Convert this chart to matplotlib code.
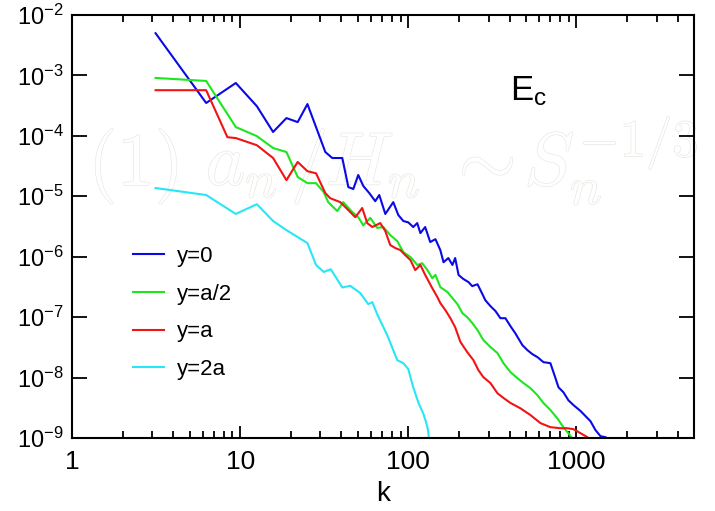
import numpy as np
import matplotlib
matplotlib.use('Agg')
import matplotlib.pyplot as plt
import matplotlib.patheffects as pe
from matplotlib.ticker import NullLocator, FuncFormatter

plt.rcParams['font.family'] = ['Liberation Sans', 'DejaVu Sans']
plt.rcParams['mathtext.fontset'] = 'custom'
plt.rcParams['mathtext.rm'] = 'Liberation Sans'
plt.rcParams['mathtext.it'] = 'Liberation Sans:italic'
plt.rcParams['mathtext.sf'] = 'Liberation Sans'

# spectra E_c(k)
k_y0 = [3.14, 6.28, 9.42, 12.57, 15.7, 18.85, 21.99, 25.13, 32.1, 35.3, 40.5, 44.0, 47.1,
        50.4, 54.0, 58.6, 63.6, 67.2, 73.0, 81.4, 87.2, 93.4, 100, 107, 113, 118, 126, 135,
        145, 155, 162, 173, 183, 190, 199, 212, 228, 240, 258, 276, 287, 308, 330, 353, 378,
        405, 433, 477, 511, 547, 586, 636, 700, 750, 782, 837, 896, 960, 1057, 1132, 1211,
        1298, 1390, 1489, 1593]
E_y0 = [5.0e-3, 3.5e-4, 7.5e-4, 3.1e-4, 1.16e-4, 1.97e-4, 1.69e-4, 3.36e-4, 5.4e-5, 4.3e-5,
        4.3e-5, 1.42e-5, 1.32e-5, 2.25e-5, 1.48e-5, 1.13e-5, 8.3e-6, 1.05e-5, 5.1e-6, 8.0e-6,
        4.9e-6, 3.9e-6, 3.7e-6, 3.1e-6, 3.6e-6, 2.46e-6, 3.1e-6, 1.75e-6, 1.95e-6, 1.29e-6,
        8.1e-7, 9.5e-7, 7.3e-7, 9.5e-7, 5.0e-7, 4.3e-7, 3.8e-7, 3.26e-7, 3.5e-7, 2.4e-7,
        1.91e-7, 1.52e-7, 1.26e-7, 9.6e-8, 9.6e-8, 7.1e-8, 5.4e-8, 3.44e-8, 2.84e-8, 2.44e-8,
        2.18e-8, 1.8e-8, 1.73e-8, 9.8e-9, 6.9e-9, 5.7e-9, 4.2e-9, 3.5e-9, 2.8e-9, 2.3e-9,
        1.9e-9, 1.35e-9, 1.07e-9, 1.03e-9, 9.2e-10]

k_ya2 = [3.14, 6.28, 9.42, 12.57, 15.7, 18.85, 21.99, 25.13, 28.27, 31.4, 33.4, 37.8, 41.0,
         46.4, 50.4, 54.0, 59.4, 65.3, 71.0, 78.1, 86.0, 93.4, 103, 113, 121, 130, 139, 145,
         155, 171, 183, 196, 210, 224, 240, 258, 279, 308, 339, 368, 405, 445, 484, 532, 586,
         636, 700, 771, 837, 896, 960]
E_ya2 = [9.1e-4, 8.1e-4, 1.4e-4, 9.9e-5, 6.3e-5, 5.4e-5, 2.08e-5, 1.65e-5, 1.65e-5, 1.17e-5,
         8.0e-6, 5.7e-6, 8.0e-6, 5.5e-6, 4.5e-6, 3.3e-6, 4.4e-6, 3.0e-6, 3.1e-6, 2.28e-6,
         1.81e-6, 1.19e-6, 9.9e-7, 7.3e-7, 7.8e-7, 6.0e-7, 4.4e-7, 5.0e-7, 3.14e-7, 2.6e-7,
         2.07e-7, 1.64e-7, 1.16e-7, 1.0e-7, 8.0e-8, 6.1e-8, 4.2e-8, 3.2e-8, 2.54e-8, 1.73e-8,
         1.23e-8, 9.8e-9, 8.1e-9, 6.7e-9, 5.1e-9, 3.8e-9, 2.9e-9, 2.1e-9, 1.5e-9, 1.2e-9,
         9.2e-10]

k_ya = [3.14, 6.28, 8.4, 9.42, 12.57, 15.7, 18.85, 21.99, 25.13, 28.27, 32.1, 34.3, 39.4,
        44.0, 48.4, 53.2, 57.0, 61.1, 68.1, 73.0, 78.1, 83.7, 89.6, 96.0, 103, 110, 118, 126,
        139, 149, 155, 166, 178, 190, 204, 224, 244, 261, 279, 308, 339, 368, 405, 464, 532,
        611, 700, 803, 884, 960, 1057, 1162, 1211]
E_ya = [5.7e-4, 5.7e-4, 9.5e-5, 9.2e-5, 7.0e-5, 4.3e-5, 1.85e-5, 3.7e-5, 2.6e-5, 2.4e-5,
        1.13e-5, 9.3e-6, 8.0e-6, 5.9e-6, 4.5e-6, 6.4e-6, 3.6e-6, 3.1e-6, 3.6e-6, 2.65e-6,
        1.56e-6, 1.39e-6, 1.29e-6, 1.06e-6, 8.8e-7, 6.0e-7, 7.3e-7, 5.0e-7, 3.0e-7, 2.14e-7,
        1.71e-7, 1.31e-7, 9.6e-8, 6.8e-8, 3.9e-8, 2.64e-8, 1.94e-8, 1.33e-8, 1.02e-8, 8.1e-9,
        5.5e-9, 4.6e-9, 3.8e-9, 3.1e-9, 2.4e-9, 1.76e-9, 1.51e-9, 1.45e-9, 1.45e-9, 1.4e-9,
        1.2e-9, 1.03e-9, 9.2e-10]

k_y2a = [3.14, 6.28, 9.42, 12.57, 15.7, 18.85, 25.13, 28.27, 31.4, 34.6, 40.5, 45.2, 51.8,
         57.8, 61.1, 65.3, 75.0, 86.0, 93.4, 100, 107, 115, 123, 128, 131, 133]
E_y2a = [1.37e-5, 1.05e-5, 5.1e-6, 7.4e-6, 3.9e-6, 2.75e-6, 1.68e-6, 7.3e-7, 5.6e-7, 6.2e-7,
         3.1e-7, 3.3e-7, 2.5e-7, 1.64e-7, 1.77e-7, 1.12e-7, 5.0e-8, 1.94e-8, 1.73e-8, 1.38e-8,
         6.9e-9, 3.8e-9, 2.5e-9, 1.76e-9, 1.35e-9, 9.2e-10]

# pieces of the faded formula and their left edges (axes fraction)
ghost_parts = [r'$(1)$', r'$a_n$', r'$/$', r'$H_n$', r'$\sim$', r'$S_n^{-1/3}$']
ghost_x = [0.026, 0.215, 0.352, 0.408, 0.600, 0.727]

fig = plt.figure(figsize=(7.15, 5.11), dpi=100)
ax = fig.add_axes([0.1007, 0.1429, 0.8699, 0.8277])

ax.plot(k_y0, E_y0, color='#0a0ae6', lw=1.5, label='y=0')
ax.plot(k_ya2, E_ya2, color='#1ee61e', lw=1.5, label='y=a/2')
ax.plot(k_ya, E_ya, color='#f01414', lw=1.5, label='y=a')
ax.plot(k_y2a, E_y2a, color='#28e6f5', lw=1.5, label='y=2a')

ax.set_xscale('log')
ax.set_yscale('log')
ax.set_xlim(1, 5000)
ax.set_ylim(1e-9, 1e-2)
ax.yaxis.set_minor_locator(NullLocator())
ax.xaxis.set_major_formatter(FuncFormatter(lambda v, p: f'{v:g}'))

ax.tick_params(which='both', direction='in', top=True, right=True, width=1.3)
ax.tick_params(axis='y', which='major', length=11, pad=6, labelsize=17)
ax.tick_params(axis='x', which='major', length=9, pad=9, labelsize=19)
ax.tick_params(axis='x', which='minor', length=5)
for s in ax.spines.values():
    s.set_linewidth(1.5)

ax.set_xlabel('k', fontsize=20, labelpad=5)

for txt, gx in zip(ghost_parts, ghost_x):
    ax.text(gx, 0.598, txt, transform=ax.transAxes, fontsize=54, math_fontfamily='cm',
            color='white', zorder=0, clip_on=False, ha='left', va='baseline',
            path_effects=[pe.Stroke(linewidth=0.9, foreground='#e6e6e0'), pe.Normal()])

ax.text(0.704, 0.799, r'$\mathrm{E_c}$', transform=ax.transAxes, fontsize=25,
        ha='left', va='baseline')

ax.legend(loc='upper left', bbox_to_anchor=(0.098, 0.454), frameon=False, fontsize=16,
          handlelength=1.4, handletextpad=0.6, labelspacing=0.75, borderpad=0,
          borderaxespad=0)

plt.savefig('out.png', dpi=100)
